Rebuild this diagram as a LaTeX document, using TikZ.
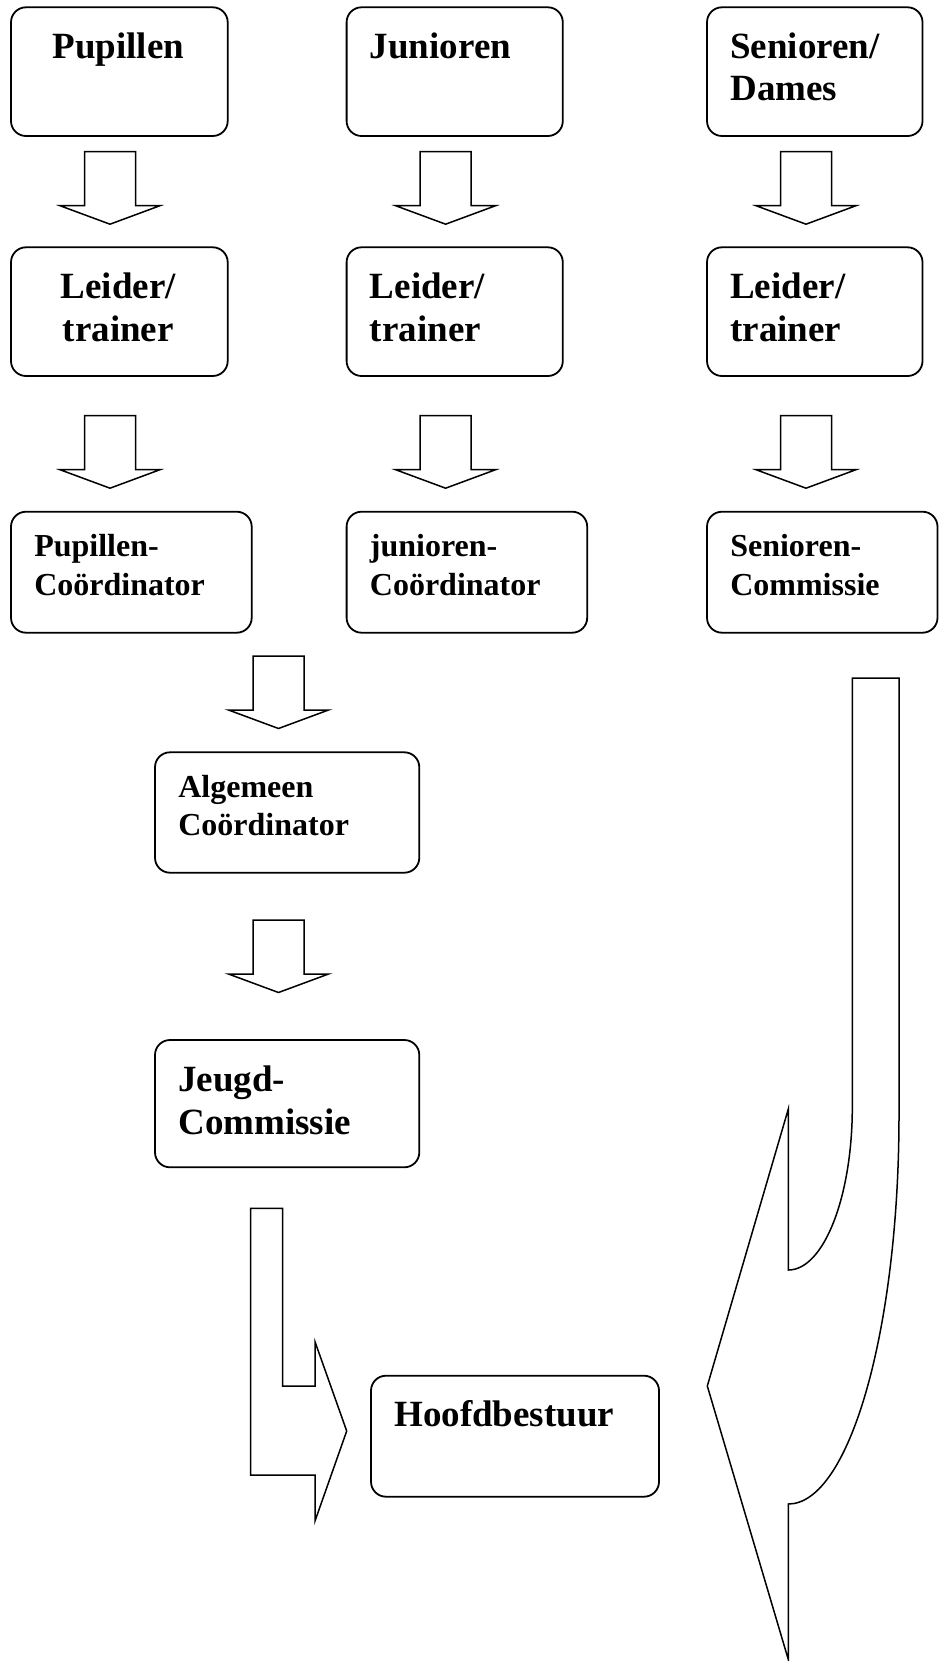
\documentclass[tikz,border=0pt]{standalone}
\usepackage{fontspec}
\setmainfont{Liberation Serif}
\usetikzlibrary{calc}
\begin{document}
\begin{tikzpicture}[x=1pt,y=-1pt,line join=miter,
  box/.style={draw,line width=1.8pt,rounded corners=15pt,inner sep=0pt},
  bigtxt/.style={font=\fontsize{37}{42.5}\selectfont\bfseries,inner sep=0pt,align=left,anchor=north west},
  bigctr/.style={font=\fontsize{37}{42.5}\selectfont\bfseries,inner sep=0pt,align=center,anchor=north},
  smalltxt/.style={font=\fontsize{32}{38.5}\selectfont\bfseries,inner sep=0pt,align=left,anchor=north west},
  shp/.style={draw,line width=1.5pt,fill=white},
  dnarr/.pic={\draw[shp] (-25.5,0) -- (25.5,0) -- (25.5,54) -- (50,54) -- (0,72.5) -- (-50,54) -- (-25.5,54) -- cycle;}]
\useasboundingbox (0,0) rectangle (939,1661);
\fill[white] (0,0) rectangle (939,1661);

% row 1
\node[box,minimum width=216.7pt,minimum height=128.7pt] (pup) at (119.35,71.65) {};
\node[box,minimum width=216.2pt,minimum height=128.7pt] (jun) at (454.7,71.65) {};
\node[box,minimum width=215.5pt,minimum height=128.7pt] (sen) at (814.75,71.65) {};
\node[bigctr] (pupt) at ($(pup.north)+(-1,26)$) {Pupillen};
\node[bigtxt] (junt) at ($(jun.north west)+(24,26)$) {Junioren};
\node[bigtxt] (sent) at ($(sen.north west)+(24,26)$) {Senioren/\\Dames};

% row 2
\node[box,minimum width=216.7pt,minimum height=128.7pt] (lp) at (119.35,311.65) {};
\node[box,minimum width=216.2pt,minimum height=128.7pt] (lj) at (454.7,311.65) {};
\node[box,minimum width=215.5pt,minimum height=128.7pt] (ls) at (814.75,311.65) {};
\node[bigctr] (lpt) at ($(lp.north)+(-1,26.5)$) {Leider/\\trainer};
\node[bigtxt] (ljt) at ($(lj.north west)+(24,26.5)$) {Leider/\\trainer};
\node[bigtxt] (lst) at ($(ls.north west)+(24,26.5)$) {Leider/\\trainer};

% row 3
\node[box,minimum width=240.7pt,minimum height=121pt] (pc) at (131.35,572.2) {};
\node[box,minimum width=240.6pt,minimum height=121pt] (jc) at (466.9,572.2) {};
\node[box,minimum width=230.5pt,minimum height=121pt] (sc) at (822.25,572.2) {};
\node[smalltxt] (pct) at ($(pc.north west)+(24,23.5)$) {Pupillen-\\Coördinator};
\node[smalltxt] (jct) at ($(jc.north west)+(24,23.5)$) {junioren-\\Coördinator};
\node[smalltxt] (sct) at ($(sc.north west)+(24,23.5)$) {Senioren-\\Commissie};

% middle column
\node[box,minimum width=264.3pt,minimum height=120.4pt] (alg) at (287.15,812.5) {};
\node[smalltxt] (algt) at ($(alg.north west)+(24,23.5)$) {Algemeen\\Coördinator};
\node[box,minimum width=264.3pt,minimum height=127.3pt] (jeu) at (287.15,1103.65) {};
\node[bigtxt] (jeut) at ($(jeu.north west)+(24,27)$) {Jeugd-\\Commissie};
\node[box,minimum width=288pt,minimum height=121pt] (hb) at (515,1436.2) {};
\node[bigtxt] (hbt) at ($(hb.north west)+(24,25)$) {Hoofdbestuur};

% down block arrows
\pic at (110,151.7) {dnarr};
\pic at (445.6,151.7) {dnarr};
\pic at (806,151.7) {dnarr};
\pic at (110,415.7) {dnarr};
\pic at (445.6,415.7) {dnarr};
\pic at (806,415.7) {dnarr};
\pic at (278.5,656) {dnarr};
\pic at (278.5,920) {dnarr};

% bent arrow to Hoofdbestuur
\draw[shp] (250.7,1208.3) -- (282.7,1208.3) -- (282.7,1386) -- (315,1386) -- (315,1341.7)
  -- (346.7,1431) -- (315,1521) -- (315,1475) -- (250.7,1475) -- cycle;

% big curved arrow from Senioren-Commissie
\draw[shp] (852.3,678) -- (899,678) -- (899,1115)
  .. controls (899,1329.8) and (849.3,1504) .. (788.3,1504)
  -- (788.3,1659.5) -- (707.3,1386) -- (788.3,1109) -- (788.3,1270)
  .. controls (823.6,1270) and (852.3,1197) .. (852.3,1107) -- cycle;
\end{tikzpicture}
\end{document}
